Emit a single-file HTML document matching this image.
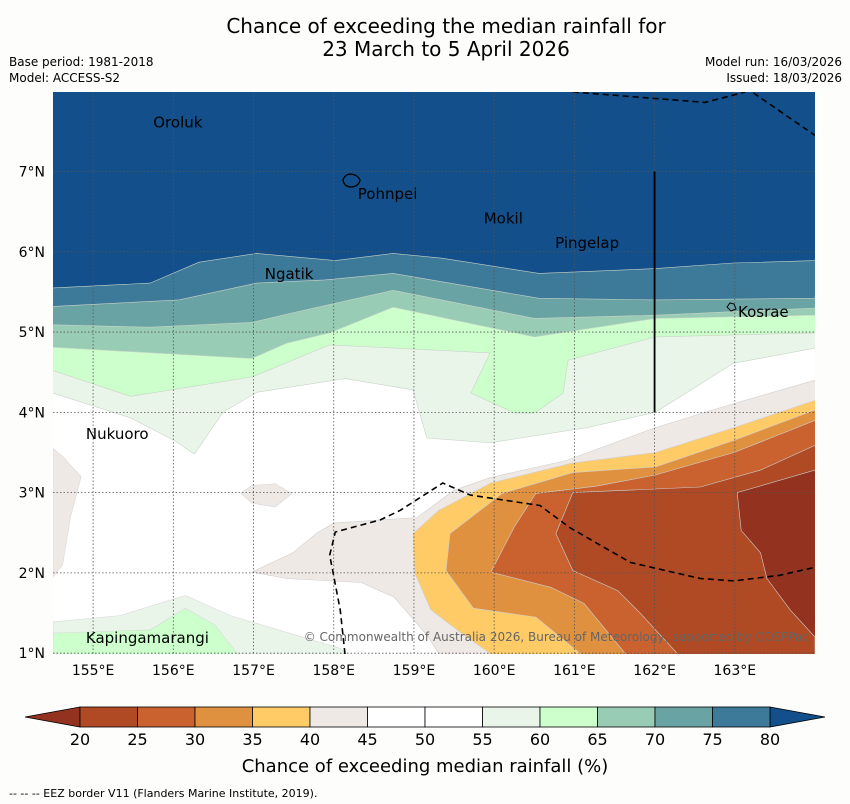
<!DOCTYPE html>
<html><head><meta charset="utf-8">
<style>
body{margin:0;background:#fdfefc;font-family:"Liberation Sans","DejaVu Sans",sans-serif;}
svg{display:block}
</style></head>
<body>
<svg id="chart" width="850" height="804" viewBox="0 0 850 804" xmlns="http://www.w3.org/2000/svg">
<rect width="850" height="804" fill="#fdfefc"/>
<text x="446" y="33" font-size="20" text-anchor="middle" fill="#000" font-family="DejaVu Sans, sans-serif">Chance of exceeding the median rainfall for</text>
<text x="446" y="56" font-size="20" text-anchor="middle" fill="#000" font-family="DejaVu Sans, sans-serif">23 March to 5 April 2026</text>
<text x="9" y="66" font-size="12" font-family="DejaVu Sans, sans-serif">Base period: 1981-2018</text>
<text x="9" y="82" font-size="12" font-family="DejaVu Sans, sans-serif">Model: ACCESS-S2</text>
<text x="842" y="66" font-size="12" text-anchor="end" font-family="DejaVu Sans, sans-serif">Model run: 16/03/2026</text>
<text x="842" y="82" font-size="12" text-anchor="end" font-family="DejaVu Sans, sans-serif">Issued: 18/03/2026</text>
<defs><clipPath id="mapclip"><rect x="53" y="92" width="762" height="562"/></clipPath></defs>
<g id="map" clip-path="url(#mapclip)">
<rect x="53" y="92" width="762" height="562" fill="#ffffff"/>
<g id="bands"></g>
<g id="grid"></g>
<g id="overlay"></g>
</g>
<g id="axes"></g>
<g id="colorbar"></g>
<text x="425" y="772" font-size="18" text-anchor="middle" font-family="DejaVu Sans, sans-serif">Chance of exceeding median rainfall (%)</text>
<text x="9" y="797" font-size="11" font-family="DejaVu Sans, sans-serif">--  --  -- EEZ border V11 (Flanders Marine Institute, 2019).</text>
</svg>
<script>
// ---- data ----
const lonTicks = [155,156,157,158,159,160,161,162,163];
const latTicks = [1,2,3,4,5,6,7];
const cbLevels = [20,25,30,35,40,45,50,55,60,65,70,75,80];
const cbColors = ["#b04a25","#c9622f","#e0913f","#fecb67","#efe9e6","#ffffff","#ffffff","#eaf5ea","#ccffcc","#99ccb4","#6aa3a3","#3d7a9a"];
const lowColor = "#93331f";
const highColor = "#134f8a";
// north (wet) contours: boundary west->east; region above is >= level
const wetLevels = [55,60,65,70,75,80];
const wetColors = ["#eaf5ea","#ccffcc","#99ccb4","#6aa3a3","#3d7a9a","#134f8a"];
const wet55 = [[154.5,4.24],[155.47,3.93],[156.01,3.65],[156.26,3.48],[156.62,4.0],[157.04,4.25],[158.14,4.42],[158.99,4.28],[159.16,3.68],[159.95,3.62],[161.16,3.81],[162.01,4.0],[162.98,4.61],[164.0,4.8]];
const wet60 = [[154.5,4.52],[155.47,4.2],[156.98,4.44],[157.95,4.84],[159.95,4.74],[159.71,4.24],[160.26,3.99],[160.5,3.99],[160.86,4.24],[160.92,4.65],[162.01,4.94],[164.0,4.99]];
const wet65 = [[154.5,4.81],[156.98,4.67],[157.41,4.86],[157.95,4.99],[158.74,5.31],[160.5,4.94],[162.01,5.17],[164.0,5.21]];
const wet70 = [[154.5,5.09],[155.71,5.06],[156.98,5.12],[157.53,5.25],[158.74,5.52],[160.5,5.17],[162.01,5.21],[164.0,5.3]];
const wet75 = [[154.5,5.32],[156.07,5.4],[157.04,5.61],[157.89,5.65],[158.74,5.73],[160.56,5.42],[162.01,5.4],[164.0,5.42]];
const wet80 = [[154.5,5.55],[155.71,5.61],[156.32,5.87],[157.04,5.98],[158.02,5.89],[158.74,5.98],[159.35,5.92],[160.56,5.73],[162.01,5.79],[162.98,5.86],[164.0,5.89]];
// south-east (dry) contours: east edge -> bottom; region to SE is <= level
const dryLevels = [45,40,35,30,25,20];
const dryColors = ["#efe9e6","#fecb67","#e0913f","#c9622f","#b04a25","#93331f"];
const dry45 = [[164.0,4.4],[162.99,4.11],[162.01,3.81],[160.9,3.4],[159.96,3.19],[159.5,3.03],[159.04,2.69],[158.0,2.62],[157.78,2.49],[157.49,2.25],[156.98,2.01],[157.41,1.93],[158.34,1.88],[158.75,1.7],[158.89,1.54],[159.18,1.2],[159.31,0.99]];
const dry40 = [[164.0,4.15],[162.99,3.81],[162.01,3.5],[160.98,3.37],[159.96,3.12],[159.31,2.78],[158.99,2.49],[159.01,2.0],[159.21,1.54],[159.59,1.25],[159.96,0.99]];
const dry35 = [[164.0,4.03],[162.99,3.65],[162.01,3.32],[160.98,3.25],[160.1,2.99],[159.45,2.49],[159.4,2.03],[159.74,1.56],[160.52,1.45],[161.08,0.99]];
const dry30 = [[164.0,3.9],[162.99,3.5],[162.01,3.22],[161.27,3.08],[160.52,2.99],[160.25,2.57],[159.96,2.01],[160.71,1.82],[161.12,1.62],[161.64,0.99]];
const dry25 = [[164.0,3.59],[163.32,3.28],[162.57,3.07],[160.98,3.0],[160.77,2.49],[160.98,2.03],[161.54,1.78],[161.82,1.5],[162.29,0.99]];
const dry20 = [[164.0,3.28],[163.03,3.0],[163.08,2.53],[163.32,2.25],[163.4,1.93],[163.69,1.54],[164.0,1.2]];
// extra small patches
const patchGrayWest = [[154.5,3.55],[154.62,3.45],[154.85,3.2],[154.72,2.7],[154.62,2.1],[154.5,1.95]];
const patchGrayMid = [[156.84,2.99],[156.98,3.09],[157.27,3.11],[157.48,2.99],[157.27,2.82],[156.98,2.87]];
const patchPaleSW = [[154.5,1.39],[155.34,1.47],[156.15,1.72],[156.71,1.47],[158.08,1.06],[158.2,0.95],[154.5,0.95]];
const patchGreenSW = [[154.5,1.25],[155.71,1.29],[156.15,1.56],[156.52,1.35],[156.83,0.95],[154.5,0.95]];
const eezMain = [[158.14,0.99],[158.08,1.54],[157.95,2.22],[158.02,2.51],[158.58,2.66],[158.83,2.78],[159.36,3.12],[159.7,2.97],[160.57,2.84],[160.95,2.56],[161.7,2.13],[162.57,1.93],[162.99,1.9],[163.56,1.97],[164.0,2.07]];
const eezTop = [[160.98,7.99],[162.63,7.86],[163.13,7.99]];
const eezTopRight = [[163.13,8.05],[164.0,7.45]];
const places = ["Oroluk","Pohnpei","Mokil","Pingelap","Ngatik","Kosrae","Nukuoro","Kapingamarangi"];
const placeLon = [155.75,158.3,159.87,160.76,157.14,163.04,154.91,154.91];
const placeLat = [7.55,6.66,6.35,6.05,5.66,5.19,3.67,1.13];

// ---- axes ----
const X0=53, X1=815, Y0=92, Y1=654;
const LON0=154.5, LON1=164.0, LAT0=0.99, LAT1=7.99;
function X(lon){return X0+(lon-LON0)/(LON1-LON0)*(X1-X0);}
function Y(lat){return Y1-(lat-LAT0)/(LAT1-LAT0)*(Y1-Y0);}
const NS="http://www.w3.org/2000/svg";
function mk(tag,attrs,parent){const e=document.createElementNS(NS,tag);for(const k in attrs)e.setAttribute(k,attrs[k]);parent.appendChild(e);return e;}
function pts(arr){return arr.map(p=>X(p[0]).toFixed(1)+","+Y(p[1]).toFixed(1)).join(" ");}

const bands=document.getElementById("bands");
const wetLines=[wet55,wet60,wet65,wet70,wet75,wet80];
wetLines.forEach((line,i)=>{
  const poly=line.concat([[LON1+0.3,LAT1+0.3],[LON0-0.3,LAT1+0.3]]);
  const ext=[[LON0-0.3,line[0][1]]].concat(poly);
  const el=mk("polygon",{points:pts(ext),fill:wetColors[i],stroke:"#c8d4c8","stroke-width":"0.6"},bands);
  
  
});
function patch(arr,color,name){
  const el=mk("polygon",{points:pts(arr),fill:color,stroke:"#d8d8d8","stroke-width":"0.6"},bands);
  
  
}
patch(patchPaleSW,"#eaf5ea","pale-green-patch-sw");
patch(patchGreenSW,"#ccffcc","green-patch-sw");
patch(patchGrayWest,"#efe9e6","gray-patch-west");
patch(patchGrayMid,"#efe9e6","gray-patch-mid");
const dryLines=[dry45,dry40,dry35,dry30,dry25,dry20];
dryLines.forEach((line,i)=>{
  const first=line[0], last=line[line.length-1];
  const ext=[[LON1+0.3,first[1]]].concat(line).concat([[last[0],LAT0-0.3],[LON1+0.3,LAT0-0.3]]);
  const el=mk("polygon",{points:pts(ext),fill:dryColors[i],stroke:"#cfcfcf","stroke-width":"0.6"},bands);
  
  
});

const grid=document.getElementById("grid");
lonTicks.forEach(l=>{
  const el=mk("line",{x1:X(l),x2:X(l),y1:Y0,y2:Y1,stroke:"#555","stroke-width":"0.8","stroke-dasharray":"1.5,2"},grid);
  
  
});
latTicks.forEach(l=>{
  const el=mk("line",{x1:X0,x2:X1,y1:Y(l),y2:Y(l),stroke:"#555","stroke-width":"0.8","stroke-dasharray":"1.5,2"},grid);
  
  
});

const ov=document.getElementById("overlay");
[eezMain,eezTop,eezTopRight].forEach((line,i)=>{
  const el=mk("polyline",{points:pts(line),fill:"none",stroke:"#000","stroke-width":"1.6","stroke-dasharray":"6,4"},ov);
  
  
});
const vline=mk("line",{x1:X(162),x2:X(162),y1:Y(7),y2:Y(4),stroke:"#000","stroke-width":"1.8"},ov);


const pohn=mk("path",{d:"M343,180 q2,-6 8,-6 q7,1 9,6 q-1,6 -8,7 q-8,0 -9,-7z",fill:"none",stroke:"#000","stroke-width":"1.3"},ov);


const kos=mk("path",{d:"M727,307 l3,-4 l4,1 l2,5 l-5,2z",fill:"none",stroke:"#000","stroke-width":"1"},ov);


places.forEach((p,i)=>{
  const t=mk("text",{x:X(placeLon[i]),y:Y(placeLat[i]),"font-size":"15","font-family":"DejaVu Sans, sans-serif",fill:"#000"},ov);
  t.textContent=p;
  
  
});
const cr=mk("text",{x:X1-6,y:Y1-13,"font-size":"12","font-family":"DejaVu Sans, sans-serif",fill:"#666","text-anchor":"end"},ov);
cr.textContent="© Commonwealth of Australia 2026, Bureau of Meteorology, supported by COSPPac";



const axes=document.getElementById("axes");
lonTicks.forEach(l=>{
  const t=mk("text",{x:X(l),y:675,"font-size":"14","text-anchor":"middle","font-family":"DejaVu Sans, sans-serif"},axes);
  t.textContent=l+"°E";
  
  
});
latTicks.forEach(l=>{
  const t=mk("text",{x:45,y:Y(l)+5,"font-size":"14","text-anchor":"end","font-family":"DejaVu Sans, sans-serif"},axes);
  t.textContent=l+"°N";
  
  
});

// ---- colorbar ----
const cb=document.getElementById("colorbar");
const CB0=80, CB1=770, CBY=707, CBH=20;
function CX(v){return CB0+(v-cbLevels[0])/(cbLevels[cbLevels.length-1]-cbLevels[0])*(CB1-CB0);}
const lt=mk("polygon",{points:`${CX(20)},${CBY} 25,${CBY+CBH/2} ${CX(20)},${CBY+CBH}`,fill:lowColor,stroke:"#000","stroke-width":"0.8"},cb);


const rt=mk("polygon",{points:`${CX(80)},${CBY} 825,${CBY+CBH/2} ${CX(80)},${CBY+CBH}`,fill:highColor,stroke:"#000","stroke-width":"0.8"},cb);


cbColors.forEach((c,i)=>{
  const r=mk("rect",{x:CX(cbLevels[i]),y:CBY,width:CX(cbLevels[i+1])-CX(cbLevels[i]),height:CBH,fill:c,stroke:"#000","stroke-width":"0.8"},cb);
  
  
});
cbLevels.forEach(v=>{
  const t=mk("text",{x:CX(v),y:745,"font-size":"16","text-anchor":"middle","font-family":"DejaVu Sans, sans-serif"},cb);
  t.textContent=v;
  
  
});
</script>
</body></html>
